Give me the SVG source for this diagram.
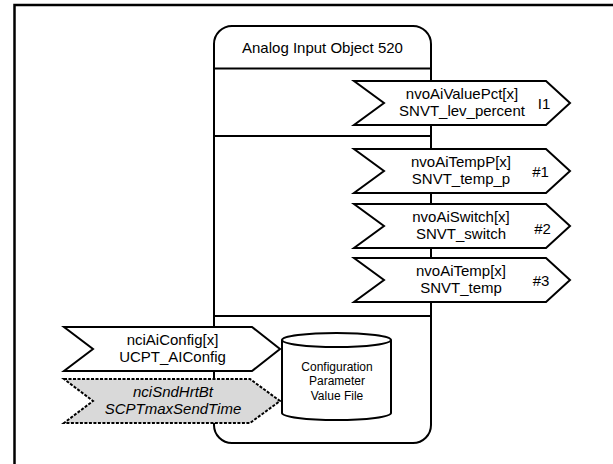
<svg xmlns="http://www.w3.org/2000/svg" width="613" height="464" viewBox="0 0 613 464">
<style>
.t{font-family:"Liberation Sans",Arial,sans-serif;font-size:15px;fill:#000;text-anchor:middle}
.s{font-size:12px}
.i{font-style:italic}
.ln{fill:none;stroke:#000;stroke-width:2}
.nv{fill:#fff;stroke:#000;stroke-width:2;stroke-linejoin:miter}
.cp{fill:#d9d9d9;stroke:#000;stroke-width:2;stroke-dasharray:3 1.5}
</style>
<rect width="613" height="464" fill="#fff"/>
<path d="M14.5,464 V5 H613" fill="none" stroke="#000" stroke-width="2.5"/>
<g id="object">
<rect x="214" y="26" width="217" height="417" rx="18" ry="18" class="ln"/>
<text class="t" x="322.5" y="52.5">Analog Input Object 520</text>
</g>
<g id="connectors">
<line x1="214" y1="68.5" x2="431" y2="68.5" class="ln"/>
<line x1="214" y1="136" x2="431" y2="136" class="ln"/>
<line x1="214" y1="316" x2="431" y2="316" class="ln"/>
</g>
<g id="nvoAiValuePct">
<path class="nv" d="M354,81 H546 L570,103 L546,125 H354 L384,103 Z"/>
<text class="t" x="462" y="99">nvoAiValuePct[x]</text>
<text class="t" x="462" y="116">SNVT_lev_percent</text>
<text class="t" x="544" y="108.5">I1</text>
</g>
<g id="nvoAiTempP">
<path class="nv" d="M354,149 H546 L570,171 L546,193 H354 L384,171 Z"/>
<text class="t" x="461" y="167">nvoAiTempP[x]</text>
<text class="t" x="461" y="184">SNVT_temp_p</text>
<text class="t" x="540.5" y="176.5">#1</text>
</g>
<g id="nvoAiSwitch">
<path class="nv" d="M354,204 H546 L570,226 L546,248 H354 L384,226 Z"/>
<text class="t" x="461" y="222">nvoAiSwitch[x]</text>
<text class="t" x="461" y="239">SNVT_switch</text>
<text class="t" x="542.5" y="234">#2</text>
</g>
<g id="nvoAiTemp">
<path class="nv" d="M354,258 H546 L570,280 L546,302 H354 L384,280 Z"/>
<text class="t" x="461" y="276">nvoAiTemp[x]</text>
<text class="t" x="461" y="293">SNVT_temp</text>
<text class="t" x="541" y="285.5">#3</text>
</g>
<g id="nciAiConfig">
<path class="nv" d="M64,327 H252 L280,349 L252,371 H64 L93,349 Z"/>
<text class="t" x="172.5" y="345">nciAiConfig[x]</text>
<text class="t" x="172.5" y="362">UCPT_AIConfig</text>
</g>
<g id="nciSndHrtBt">
<path class="cp" d="M64,379 H250 L280,401 L250,423 H64 L93,401 Z"/>
<text class="t i" x="173" y="397">nciSndHrtBt</text>
<text class="t i" x="173" y="414">SCPTmaxSendTime</text>
</g>
<g id="cpvf">
<path d="M282,340 V413 A54.5,7 0 0 0 391,413 V340" fill="#fff" stroke="#000" stroke-width="2"/>
<ellipse cx="336.5" cy="340" rx="54.5" ry="7" fill="#fff" stroke="#000" stroke-width="2"/>
<text class="t s" x="337" y="370.5">Configuration</text>
<text class="t s" x="337" y="385">Parameter</text>
<text class="t s" x="337" y="399.5">Value File</text>
</g>
</svg>
